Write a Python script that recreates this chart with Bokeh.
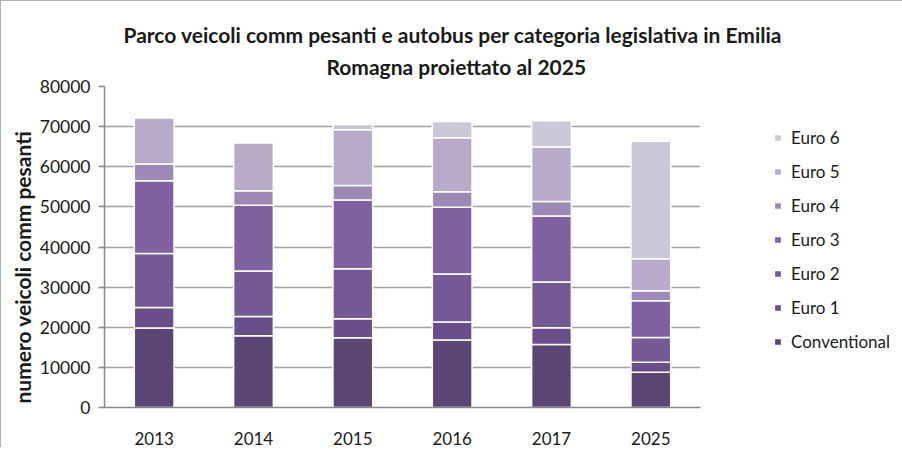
from bokeh.plotting import figure
from bokeh.models import Legend, LegendItem, FixedTicker, NumeralTickFormatter, Title
from bokeh.embed import file_html
from bokeh.resources import INLINE

years = ["2013", "2014", "2015", "2016", "2017", "2025"]
conventional = [19800, 17900, 17400, 16800, 15700, 8800]
euro1 = [5100, 4800, 4700, 4500, 4150, 2500]
euro2 = [13500, 11300, 12500, 12000, 11400, 6150]
euro3 = [18100, 16400, 17100, 16600, 16450, 9150]
euro4 = [4200, 3600, 3650, 3900, 3650, 2500]
euro5 = [11500, 12000, 13900, 13400, 13550, 7950]
euro6 = [0, 0, 1300, 4100, 6550, 29300]

series = ["Conventional", "Euro 1", "Euro 2", "Euro 3", "Euro 4", "Euro 5", "Euro 6"]
colors = ["#5b4574", "#694e89", "#745994", "#7f61a2", "#9d89b6", "#b8abca", "#cdc7da"]
y_ticks = [0, 10000, 20000, 30000, 40000, 50000, 60000, 70000, 80000]
title_lines = ["Parco veicoli comm pesanti e autobus per categoria legislativa in Emilia",
               "Romagna proiettato al 2025"]
y_label = "numero veicoli comm pesanti"

data = {"years": years, "Conventional": conventional, "Euro 1": euro1, "Euro 2": euro2,
        "Euro 3": euro3, "Euro 4": euro4, "Euro 5": euro5, "Euro 6": euro6}

FONT = "Lato"
TXT = "#1a1a1a"
AX = "#888888"

p = figure(x_range=years, y_range=(0, 80000), frame_width=596, frame_height=321, title=None,
           output_backend="svg", toolbar_location=None,
           min_border_left=103, min_border_right=10, min_border_top=85, min_border_bottom=40)

renderers = p.vbar_stack(series, x="years", width=0.4, source=data, color=colors,
                         line_color="white", line_width=1.5)

p.x_range.range_padding = 0
p.outline_line_color = None
p.background_fill_color = "white"
p.border_fill_color = "white"
p.styles = {"border-top": "1px solid #b0b0b0", "border-left": "1px solid #b0b0b0"}

# two-line title, each line centred over the chart
t2 = Title(text=title_lines[1], align="left", offset=222, text_font=FONT, text_font_size="21px",
           text_font_style="bold", text_color=TXT, standoff=15)
t1 = Title(text=title_lines[0], align="left", offset=19, text_font=FONT, text_font_size="21px",
           text_font_style="bold", text_color=TXT, standoff=-4)
p.add_layout(t2, "above")
p.add_layout(t1, "above")

# y axis title (placed a bit below centre, as in the original)
ty = Title(text=y_label, align="left", offset=4, text_font=FONT, text_font_size="21px",
           text_font_style="bold", text_color=TXT, standoff=4)
p.add_layout(ty, "left")

# grid
p.xgrid.grid_line_color = None
p.ygrid.grid_line_color = "#a0a0a0"
p.ygrid.grid_line_width = 1.5
p.ygrid.ticker = FixedTicker(ticks=y_ticks)

# y axis
p.yaxis.ticker = FixedTicker(ticks=y_ticks)
p.yaxis.formatter = NumeralTickFormatter(format="0")
p.yaxis.major_label_text_font = FONT
p.yaxis.major_label_text_font_size = "17.5px"
p.yaxis.major_label_text_color = TXT
p.yaxis.major_label_standoff = 8
p.yaxis.axis_line_color = AX
p.yaxis.axis_line_width = 1.5
p.yaxis.major_tick_line_color = AX
p.yaxis.major_tick_line_width = 1.5
p.yaxis.major_tick_out = 6
p.yaxis.major_tick_in = 0
p.yaxis.minor_tick_line_color = None

# x axis
p.xaxis.major_label_text_font = FONT
p.xaxis.major_label_text_font_size = "17px"
p.xaxis.major_label_text_color = TXT
p.xaxis.major_label_standoff = 24
p.xaxis.axis_line_color = AX
p.xaxis.axis_line_width = 1.5
p.xaxis.major_tick_line_color = None
p.xaxis.major_tick_out = 0
p.xaxis.minor_tick_line_color = None

# legend
items = [LegendItem(label=s, renderers=[r]) for s, r in zip(series, renderers)][::-1]
legend = Legend(items=items, location=(73, 55), orientation="vertical",
                glyph_width=9, glyph_height=9, label_standoff=9, spacing=13,
                label_height=20, label_text_font=FONT, label_text_font_size="17px",
                label_text_color=TXT, padding=0, margin=0,
                border_line_color=None, background_fill_alpha=0)
p.add_layout(legend, "right")

open("out.html", "w").write(file_html(p, INLINE))
